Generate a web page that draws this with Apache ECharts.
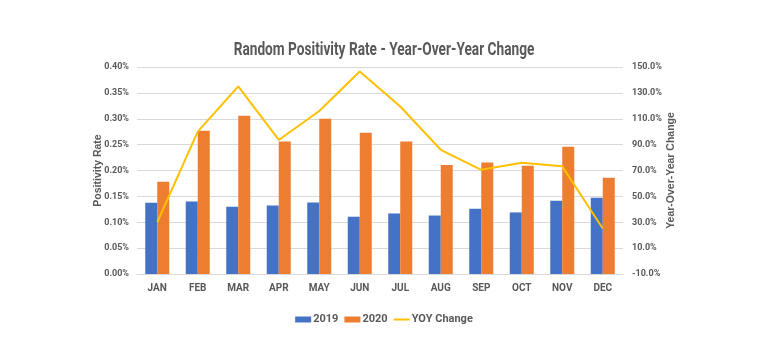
<!DOCTYPE html>
<html>
<head>
<meta charset="utf-8">
<script src="https://cdn.jsdelivr.net/npm/echarts@6/dist/echarts.min.js"></script>
<style>html,body{margin:0;padding:0;background:#fff}#c{width:768px;height:361px}</style>
</head>
<body>
<div id="c"></div>
<script>
const months = ['JAN','FEB','MAR','APR','MAY','JUN','JUL','AUG','SEP','OCT','NOV','DEC'];
const rate2019 = [0.1378,0.140,0.130,0.1326,0.138,0.1107,0.117,0.113,0.126,0.119,0.1416,0.1474];
const rate2020 = [0.1784,0.277,0.306,0.256,0.300,0.273,0.256,0.2106,0.2157,0.209,0.246,0.186];
const yoyChange = [30,100,135,93.6,116,146.5,119.5,86,70.5,76,73.2,25.2];

const font = "Roboto,'Liberation Sans',sans-serif";
const grey = '#595959';
const chart = echarts.init(document.getElementById('c'));
chart.setOption({
  animation: false,
  backgroundColor: '#fff',
  graphic: [{
    type: 'text', x: 384, y: 50, scaleX: 0.76,
    style: {
      text: 'Random Positivity Rate - Year-Over-Year Change',
      font: 'bold 18px ' + font, fill: grey,
      align: 'center', verticalAlign: 'middle'
    }
  }],
  legend: {
    bottom: 31, left: 'center', itemGap: 6,
    itemWidth: 16, itemHeight: 6,
    textStyle: {fontFamily: font, fontWeight: 'bold', fontSize: 11, color: grey, padding: [0, 0, 0, -3]},
    data: [{name:'2019', icon:'rect'}, {name:'2020', icon:'rect'},
           {name:'YOY Change', icon:'path://M0,0 H16 V2 H0 Z'}]
  },
  grid: {left: 137, right: 145, top: 67, bottom: 87},
  xAxis: {
    type: 'category', data: months,
    axisLine: {show: true, lineStyle: {color: '#d9d9d9'}},
    axisTick: {show: false},
    axisLabel: {fontFamily: font, fontWeight: 'bold', fontSize: 10, color: grey, margin: 9}
  },
  yAxis: [{
    type: 'value', min: 0, max: 0.4, interval: 0.05,
    name: 'Positivity Rate', nameLocation: 'middle', nameGap: 33, nameRotate: 90,
    nameMoveOverlap: false,
    nameTextStyle: {fontFamily: "'Liberation Sans',Arial,sans-serif", fontWeight: 'bold', fontSize: 10.5, color: grey},
    axisLabel: {fontFamily: font, fontWeight: 'bold', fontSize: 9, color: grey, margin: 8,
      formatter: v => v.toFixed(2) + '%'},
    splitLine: {lineStyle: {color: '#d9d9d9'}},
    axisLine: {show: false}, axisTick: {show: false}
  }, {
    type: 'value', min: -10, max: 150, interval: 20,
    name: 'Year-Over-Year Change', nameLocation: 'middle', nameGap: 43, nameRotate: 90,
    nameMoveOverlap: false,
    nameTextStyle: {fontFamily: "'Liberation Sans',Arial,sans-serif", fontWeight: 'bold', fontSize: 10.5, color: grey},
    axisLabel: {fontFamily: font, fontWeight: 'bold', fontSize: 9, color: grey, margin: 9,
      formatter: v => v.toFixed(1) + '%'},
    splitLine: {show: false},
    axisLine: {show: false}, axisTick: {show: false}
  }],
  series: [{
    name: '2019', type: 'bar', data: rate2019, barWidth: 12, barGap: '0%',
    itemStyle: {color: '#4472C4'}
  }, {
    name: '2020', type: 'bar', data: rate2020, barWidth: 12,
    itemStyle: {color: '#ED7D31'}
  }, {
    name: 'YOY Change', type: 'line', yAxisIndex: 1, data: yoyChange,
    symbol: 'none', lineStyle: {color: '#FFC000', width: 2}, itemStyle: {color: '#FFC000'}
  }]
});
</script>
</body>
</html>
